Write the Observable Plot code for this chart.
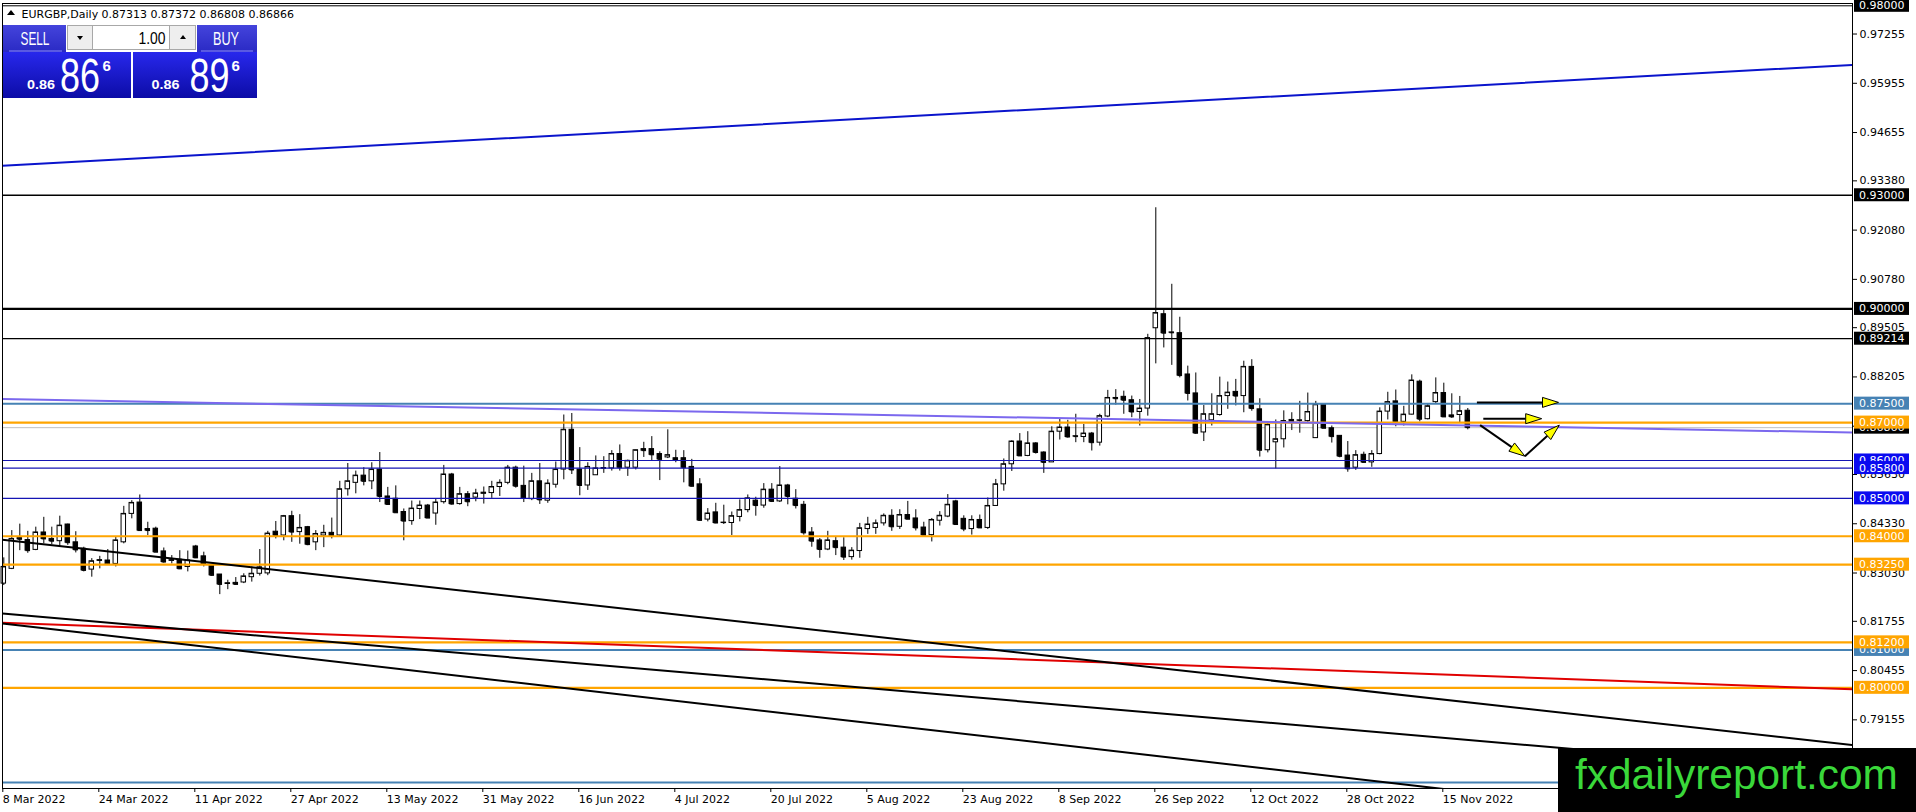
<!DOCTYPE html>
<html>
<head>
<meta charset="utf-8">
<script src="https://cdn.jsdelivr.net/npm/d3@7"></script>
<script src="https://cdn.jsdelivr.net/npm/@observablehq/plot@0.6"></script>
<style>
  html, body { margin: 0; padding: 0; background: #fff; overflow: hidden; }
  #chart svg { display: block; }
</style>
</head>
<body>
<div id="chart"></div>
<script>
// ---------------- DATA ----------------
const openP = [
0.8275,0.8314,0.8395,0.8390,0.8364,0.8410,0.8393,0.8387,0.8431,0.8384,
0.8367,0.8312,0.8335,0.8336,0.8327,0.8384,0.8459,0.8489,0.8419,0.8420,
0.8360,0.8335,0.8338,0.8319,0.8373,0.8347,0.8323,0.8299,0.8274,0.8277,
0.8278,0.8292,0.8301,0.8302,0.8412,0.8402,0.8453,0.8411,0.8424,0.8384,
0.8402,0.8409,0.8402,0.8524,0.8541,0.8560,0.8545,0.8576,0.8505,0.8499,
0.8464,0.8440,0.8472,0.8481,0.8460,0.8490,0.8563,0.8485,0.8511,0.8502,
0.8512,0.8514,0.8530,0.8541,0.8581,0.8533,0.8498,0.8545,0.8494,0.8536,
0.8576,0.8681,0.8576,0.8534,0.8561,0.8578,0.8579,0.8617,0.8581,0.8581,
0.8630,0.8630,0.8617,0.8608,0.8606,0.8606,0.8583,0.8537,0.8444,0.8463,
0.8435,0.8435,0.8451,0.8469,0.8494,0.8481,0.8523,0.8492,0.8534,0.8499,
0.8483,0.8410,0.8389,0.8365,0.8387,0.8370,0.8345,0.8361,0.8419,0.8422,
0.8434,0.8454,0.8425,0.8456,0.8447,0.8423,0.8403,0.8441,0.8452,0.8492,
0.8446,0.8419,0.8443,0.8422,0.8480,0.8537,0.8590,0.8650,0.8612,0.8645,
0.8621,0.8595,0.8676,0.8687,0.8664,0.8662,0.8671,0.8647,0.8716,0.8765,
0.8768,0.8759,0.8728,0.8737,0.8949,0.8986,0.8938,0.8936,0.8827,0.8777,
0.8674,0.8706,0.8720,0.8770,0.8781,0.8770,0.8847,0.8735,0.8627,0.8648,
0.8656,0.8707,0.8705,0.8704,0.8659,0.8747,0.8685,0.8665,0.8613,0.8581,
0.8615,0.8595,0.8617,0.8729,0.8756,0.8702,0.8721,0.8808,0.8709,0.8754,
0.8778,0.8719,0.8720,0.87313];
const highP = [
0.8343,0.8415,0.8432,0.8413,0.8424,0.8450,0.8424,0.8453,0.8432,0.8412,
0.8371,0.8341,0.8347,0.8365,0.8397,0.8479,0.8494,0.8509,0.8437,0.8424,
0.8369,0.8349,0.8362,0.8361,0.8376,0.8358,0.8325,0.8299,0.8284,0.8291,
0.8301,0.8319,0.8365,0.8413,0.8439,0.8455,0.8466,0.8457,0.8426,0.8415,
0.8429,0.8448,0.8545,0.8592,0.8572,0.8581,0.8594,0.8621,0.8529,0.8533,
0.8472,0.8493,0.8493,0.8484,0.8498,0.8587,0.8566,0.8529,0.8518,0.8524,
0.8530,0.8545,0.8549,0.8587,0.8585,0.8585,0.8566,0.8592,0.8549,0.8596,
0.8720,0.8724,0.8634,0.8594,0.8612,0.8610,0.8626,0.8641,0.8601,0.8627,
0.8648,0.8663,0.8623,0.8681,0.8627,0.8626,0.8603,0.8552,0.8473,0.8487,
0.8482,0.8464,0.8496,0.8509,0.8503,0.8539,0.8539,0.8584,0.8537,0.8523,
0.8492,0.8423,0.8394,0.8413,0.8398,0.8396,0.8370,0.8434,0.8450,0.8443,
0.8459,0.8470,0.8470,0.8492,0.8470,0.8437,0.8447,0.8465,0.8510,0.8495,
0.8454,0.8454,0.8456,0.8501,0.8550,0.8604,0.8652,0.8671,0.8676,0.8647,
0.8623,0.8689,0.8709,0.8706,0.8722,0.8695,0.8674,0.8722,0.8785,0.8787,
0.8783,0.8770,0.8761,0.8933,0.9267,0.8997,0.9065,0.8978,0.8849,0.8831,
0.8745,0.8776,0.8820,0.8807,0.8814,0.8862,0.8866,0.8763,0.8702,0.8707,
0.8731,0.8726,0.8756,0.8778,0.8756,0.8750,0.8691,0.8665,0.8650,0.8626,
0.8622,0.8626,0.8739,0.8780,0.8786,0.8743,0.8826,0.8812,0.8750,0.8818,
0.8804,0.8776,0.8769,0.87372];
const lowP = [
0.8270,0.8312,0.8362,0.8355,0.8362,0.8380,0.8378,0.8371,0.8376,0.8356,
0.8306,0.8292,0.8314,0.8323,0.8319,0.8380,0.8446,0.8413,0.8402,0.8358,
0.8329,0.8327,0.8312,0.8306,0.8341,0.8319,0.8294,0.8246,0.8259,0.8271,
0.8275,0.8279,0.8295,0.8296,0.8393,0.8388,0.8384,0.8379,0.8375,0.8362,
0.8370,0.8393,0.8397,0.8506,0.8512,0.8533,0.8523,0.8489,0.8482,0.8462,
0.8388,0.8429,0.8444,0.8447,0.8429,0.8485,0.8482,0.8482,0.8478,0.8491,
0.8485,0.8500,0.8505,0.8536,0.8527,0.8489,0.8494,0.8484,0.8487,0.8527,
0.8549,0.8563,0.8507,0.8521,0.8561,0.8566,0.8572,0.8572,0.8558,0.8575,
0.8608,0.8600,0.8547,0.8605,0.8594,0.8541,0.8530,0.8440,0.8438,0.8433,
0.8431,0.8402,0.8438,0.8462,0.8453,0.8474,0.8489,0.8489,0.8483,0.8472,
0.8403,0.8371,0.8342,0.8362,0.8349,0.8336,0.8337,0.8342,0.8405,0.8405,
0.8427,0.8413,0.8418,0.8445,0.8414,0.8403,0.8385,0.8427,0.8449,0.8429,
0.8412,0.8403,0.8421,0.8418,0.8480,0.8519,0.8571,0.8612,0.8610,0.8617,
0.8566,0.8595,0.8654,0.8659,0.8647,0.8647,0.8625,0.8638,0.8713,0.8746,
0.8722,0.8713,0.8691,0.8717,0.8855,0.8897,0.8851,0.8818,0.8757,0.8669,
0.8650,0.8691,0.8717,0.8735,0.8744,0.8726,0.8730,0.8609,0.8620,0.8578,
0.8633,0.8679,0.8672,0.8698,0.8659,0.8685,0.8646,0.8607,0.8569,0.8574,
0.8594,0.8582,0.8615,0.8707,0.8689,0.8691,0.8720,0.8702,0.8707,0.8750,
0.8715,0.8711,0.8698,0.86808];
const closeP = [
0.8319,0.8393,0.8392,0.8362,0.8410,0.8393,0.8387,0.8428,0.8383,0.8364,
0.8310,0.8334,0.8337,0.8326,0.8389,0.8459,0.8488,0.8415,0.8415,0.8358,
0.8332,0.8337,0.8314,0.8336,0.8343,0.8327,0.8297,0.8273,0.8276,0.8273,
0.8294,0.8301,0.8318,0.8407,0.8402,0.8453,0.8411,0.8422,0.8378,0.8406,
0.8409,0.8400,0.8524,0.8545,0.8560,0.8545,0.8576,0.8505,0.8484,0.8462,
0.8440,0.8473,0.8481,0.8448,0.8489,0.8563,0.8485,0.8511,0.8491,0.8513,
0.8515,0.8530,0.8541,0.8581,0.8532,0.8500,0.8545,0.8496,0.8539,0.8576,
0.8681,0.8575,0.8534,0.8583,0.8579,0.8580,0.8617,0.8581,0.8599,0.8627,
0.8626,0.8615,0.8603,0.8614,0.8600,0.8581,0.8532,0.8442,0.8460,0.8435,
0.8436,0.8453,0.8469,0.8500,0.8481,0.8523,0.8492,0.8534,0.8505,0.8481,
0.8409,0.8387,0.8365,0.8389,0.8370,0.8345,0.8362,0.8421,0.8431,0.8434,
0.8454,0.8425,0.8456,0.8445,0.8422,0.8403,0.8443,0.8454,0.8483,0.8431,
0.8419,0.8443,0.8422,0.8480,0.8537,0.8590,0.8650,0.8612,0.8645,0.8621,
0.8595,0.8676,0.8687,0.8662,0.8663,0.8671,0.8647,0.8717,0.8765,0.8763,
0.8759,0.8728,0.8737,0.8923,0.8989,0.8936,0.8937,0.8824,0.8777,0.8672,
0.8722,0.8722,0.8770,0.8779,0.8770,0.8847,0.8737,0.8627,0.8694,0.8656,
0.8704,0.8701,0.8706,0.8728,0.8747,0.8685,0.8663,0.8611,0.8578,0.8614,
0.8595,0.8617,0.8729,0.8754,0.8702,0.8721,0.8811,0.8709,0.8743,0.8778,
0.8715,0.8715,0.8730,0.86866];

const dateTickIndex = [0,12,24,36,48,60,72,84,96,108,120,132,144,156,168,180];
const dateTickLabels = ["8 Mar 2022","24 Mar 2022","11 Apr 2022","27 Apr 2022","13 May 2022","31 May 2022",
  "16 Jun 2022","4 Jul 2022","20 Jul 2022","5 Aug 2022","23 Aug 2022","8 Sep 2022","26 Sep 2022",
  "12 Oct 2022","28 Oct 2022","15 Nov 2022"];
const priceTicks = [0.97255,0.95955,0.94655,0.93380,0.92080,0.90780,0.89505,0.88205,0.86905,0.85630,
  0.84330,0.83030,0.81755,0.80455,0.79155];

// horizontal levels (price and kind)
const levelPrices = [0.98000,0.93000,0.90000,0.89214,0.87500,0.87000,0.86000,0.85800,0.85000,0.84000,0.83250,0.81000,0.81200,0.80000,0.77500];
const levelKinds  = ["black","black","black","black","steel","orange","blue","blue","blue","orange","orange","steel","orange","orange","steel"];
// levels whose right-axis price tag is hidden behind the watermark in the reference
const hiddenTagPrices = [0.77500];

const symbolName = "EURGBP,Daily";
const lastBarOHLC = [0.87313, 0.87372, 0.86808, 0.86866];
const bidPrice = 0.86866;
const askPrice = 0.86896;
const lotSize = "1.00";

// trend lines: price at left edge and right edge of the chart
const trendNames       = ["blue","purple","red","blackA","blackB","blackC"];
const trendLeftPrice   = [0.9378,0.8762,0.8172,0.8391,0.8196,0.8170];
const trendRightPrice  = [0.9644,0.8674,0.7996,0.7849,0.7775,0.7609];

// arrows (bar index, price)
const arrowStartIndex = [184.2,185.0,184.6,190.2];
const arrowStartPrice = [0.8752,0.8709,0.8692,0.8610];
const arrowEndIndex   = [194.4,192.3,190.2,194.5];
const arrowEndPrice   = [0.8752,0.8709,0.8610,0.8692];

// ---------------- LAYOUT / STYLE ----------------
const W = 1916, H = 812;
const mL = 2, mR = 64, mT = 3, mB = 24;
const barStep = 8, firstBarX = 3.3;
const xDomain = [(mL - firstBarX) / barStep, (W - mR - firstBarX) / barStep];
const yDomain = [0.773429, 0.980607];

const kindStyle = {
  black:  {line: "#000000", label: "#000000", width: 1.2},
  steel:  {line: "#4682B4", label: "#4682B4", width: 2},
  orange: {line: "#FFA500", label: "#FFA500", width: 2.2},
  blue:   {line: "#1414b4", label: "#0a0af0", width: 1.2}
};
const levelWidthOverride = {"0.90000": 2.4, "0.93000": 1.4, "0.98000": 1};
const trendStyle = {
  blue:   {stroke: "#0a14cc", width: 2},
  purple: {stroke: "#7b68ee", width: 2},
  red:    {stroke: "#e00000", width: 2},
  blackA: {stroke: "#000000", width: 2},
  blackB: {stroke: "#000000", width: 2},
  blackC: {stroke: "#000000", width: 2}
};

const candles = openP.map((o, i) => ({i, open: o, high: highP[i], low: lowP[i], close: closeP[i]}));
const levels = levelPrices.map((p, k) => ({price: p, kind: levelKinds[k]}));
const trends = trendNames.map((n, k) => ({name: n, pts: [
  {i: xDomain[0], p: trendLeftPrice[k]}, {i: xDomain[1], p: trendRightPrice[k]}]}));
const arrows = arrowStartIndex.map((s, k) => ({x1: s, y1: arrowStartPrice[k], x2: arrowEndIndex[k], y2: arrowEndPrice[k]}));

const fmt5 = d3.format(".5f");

// arrow render mark (filled yellow heads)
function arrowMark(index, scales) {
  const g = d3.create("svg:g");
  for (const a of arrows) {
    const x1 = scales.x(a.x1), y1 = scales.y(a.y1), x2 = scales.x(a.x2), y2 = scales.y(a.y2);
    const ang = Math.atan2(y2 - y1, x2 - x1), L = 16, Wd = 5;
    const bx = x2 - L * Math.cos(ang), by = y2 - L * Math.sin(ang);
    g.append("line").attr("x1", x1).attr("y1", y1).attr("x2", bx).attr("y2", by)
      .attr("stroke", "#000").attr("stroke-width", 2);
    g.append("path")
      .attr("d", `M${x2},${y2}L${bx + Wd * Math.sin(ang)},${by - Wd * Math.cos(ang)}L${bx - Wd * Math.sin(ang)},${by + Wd * Math.cos(ang)}Z`)
      .attr("fill", "#ffff00").attr("stroke", "#000").attr("stroke-width", 1);
  }
  return g.node();
}

// right-axis price labels for levels
function levelLabelMark(index, scales, values, dims) {
  const g = d3.create("svg:g").attr("font-family", "DejaVu Sans, sans-serif").attr("font-size", 11)
    .attr("text-anchor", "start");
  const x0 = dims.width - dims.marginRight + 2;
  const items = [{price: bidPrice, color: "#000000"}];
  const order = [0.86000, 0.85800, 0.81000, 0.81200];
  const rest = levels.filter(l => !order.includes(l.price));
  const seq = order.map(p => levels.find(l => l.price === p)).concat(rest)
    .filter(l => !hiddenTagPrices.includes(l.price));
  for (const l of seq) items.push({price: l.price, color: kindStyle[l.kind].label});
  for (const it of items) {
    const y = scales.y(it.price);
    g.append("rect").attr("x", x0).attr("y", y - 6.5).attr("width", 55).attr("height", 13).attr("fill", it.color);
    g.append("text").attr("x", x0 + 5).attr("y", y).attr("dy", "0.36em").attr("fill", "#fff").text(fmt5(it.price));
  }
  return g.node();
}

const marks = [
  Plot.ruleY([bidPrice], {stroke: "#c0c0c0", strokeWidth: 1}),
  Plot.ruleX(candles, {x: "i", y1: "low", y2: "high", stroke: "#000", strokeWidth: 1}),
  Plot.rect(candles, {x1: d => d.i - 0.28, x2: d => d.i + 0.28, y1: "open", y2: "close",
    fill: d => d.close >= d.open ? "#ffffff" : "#000000", stroke: "#000", strokeWidth: 1}),
  Plot.link(candles, {x1: d => d.i - 0.28, x2: d => d.i + 0.28, y1: "close", y2: "close", stroke: "#000", strokeWidth: 1}),
  ...levels.map(l => Plot.ruleY([l.price], {
    stroke: kindStyle[l.kind].line,
    strokeWidth: levelWidthOverride[fmt5(l.price)] ?? kindStyle[l.kind].width
  })),
  ...trends.map(t => Plot.line(t.pts, {x: "i", y: "p", stroke: trendStyle[t.name].stroke,
    strokeWidth: trendStyle[t.name].width, clip: true})),
  arrowMark,
  Plot.axisY(priceTicks, {anchor: "right", tickSize: 4, tickPadding: 3, tickFormat: fmt5, label: null,
    fontSize: 11, fill: "#000", stroke: "#000"}),
  Plot.axisX(dateTickIndex, {anchor: "bottom", tickSize: 4, tickPadding: 3, label: null,
    tickFormat: d => dateTickLabels[dateTickIndex.indexOf(d)], textAnchor: "start", dx: -1, fontSize: 11}),
  Plot.frame({stroke: "#000", strokeWidth: 1}),
  levelLabelMark
];

const chart = Plot.plot({
  width: W, height: H,
  marginLeft: mL, marginRight: mR, marginTop: mT, marginBottom: mB,
  x: {domain: xDomain},
  y: {domain: yDomain},
  style: {fontFamily: "DejaVu Sans, sans-serif", fontSize: "11px", background: "#fff", color: "#000", overflow: "visible"},
  marks
});
document.getElementById("chart").appendChild(chart);

// ---------------- UI CHROME (header, trade panel, watermark) ----------------
const svg = d3.select(chart);
const defs = svg.append("defs");
const g1 = defs.append("linearGradient").attr("id", "btnGrad").attr("x1", 0).attr("y1", 0).attr("x2", 0).attr("y2", 1);
g1.append("stop").attr("offset", "0%").attr("stop-color", "#4444dc");
g1.append("stop").attr("offset", "100%").attr("stop-color", "#2a2ac4");
const g2 = defs.append("linearGradient").attr("id", "priceGrad").attr("x1", 0).attr("y1", 0).attr("x2", 0).attr("y2", 1);
g2.append("stop").attr("offset", "0%").attr("stop-color", "#2828ec");
g2.append("stop").attr("offset", "100%").attr("stop-color", "#0c0ca6");

// text squeezed horizontally to a target width (real transform, so its box is exact)
function squeezed(parent, x, y, size, str, targetW, attrs = {}) {
  const t = parent.append("text").attr("x", 0).attr("y", 0).attr("font-size", size).text(str);
  for (const k in attrs) t.attr(k, attrs[k]);
  const len = t.node().getComputedTextLength() || targetW;
  t.attr("transform", `translate(${x},${y}) scale(${targetW / len},1)`);
  return t;
}

const hdr = svg.append("g").attr("font-family", "DejaVu Sans, sans-serif").attr("font-size", 11)
  .attr("fill", "#000").attr("text-anchor", "start");
hdr.append("path").attr("d", "M7,15L11,10L15,15Z").attr("fill", "#000");
hdr.append("text").attr("x", 21.5).attr("y", 17.5).text(symbolName);
hdr.append("text").attr("x", 101.5).attr("y", 17.5).text(lastBarOHLC.map(fmt5).join(" "));

const ui = svg.append("g").attr("font-family", "Liberation Sans, Arial, sans-serif").attr("text-anchor", "start");
// SELL / BUY buttons
ui.append("rect").attr("x", 3).attr("y", 25).attr("width", 63).attr("height", 27).attr("fill", "url(#btnGrad)");
ui.append("rect").attr("x", 197).attr("y", 25).attr("width", 60).attr("height", 27).attr("fill", "url(#btnGrad)");
ui.append("line").attr("x1", 9).attr("x2", 62).attr("y1", 51).attr("y2", 51).attr("stroke", "#8a8aff").attr("stroke-width", 1);
ui.append("line").attr("x1", 201).attr("x2", 253).attr("y1", 51).attr("y2", 51).attr("stroke", "#8a8aff").attr("stroke-width", 1);
squeezed(ui, 20.5, 45, 18, "SELL", 29, {fill: "#fff"});
squeezed(ui, 213, 45, 18, "BUY", 26, {fill: "#fff"});
// spinner + lot
ui.append("rect").attr("x", 67.5).attr("y", 25.5).attr("width", 25).attr("height", 24).attr("fill", "#eeeeee").attr("stroke", "#a8a8a8");
ui.append("rect").attr("x", 92.5).attr("y", 25.5).attr("width", 77).attr("height", 24).attr("fill", "#ffffff").attr("stroke", "#a8a8a8");
ui.append("rect").attr("x", 169.5).attr("y", 25.5).attr("width", 26).attr("height", 24).attr("fill", "#eeeeee").attr("stroke", "#a8a8a8");
ui.append("path").attr("d", "M77,36L83,36L80,40Z").attr("fill", "#000");
ui.append("path").attr("d", "M180,39L186,39L183,35Z").attr("fill", "#000");
squeezed(ui, 138.5, 43.5, 16, lotSize, 27, {fill: "#000"});
// price boxes
function priceBox(x, w, price, smallX, bigX, supX) {
  ui.append("rect").attr("x", x).attr("y", 52).attr("width", w).attr("height", 46).attr("fill", "url(#priceGrad)");
  const s = price.toFixed(5);            // e.g. 0.86866
  const head = s.slice(0, 4), big = s.slice(4, 6), sup = s.slice(6, 7);
  squeezed(ui, smallX, 88.5, 13, head, 28, {fill: "#fff", "font-weight": "bold"});
  squeezed(ui, bigX, 92, 49, big, 40, {fill: "#fff"});
  ui.append("text").attr("x", supX).attr("y", 70.5).attr("font-size", 15).attr("font-weight", "bold")
    .attr("fill", "#fff").text(sup);
}
priceBox(3, 128, bidPrice, 27, 60, 102.5);
priceBox(133, 124, askPrice, 151.5, 189.5, 231.5);

// watermark
const wm = svg.append("g").attr("text-anchor", "start").attr("font-family", "Liberation Sans, Arial, sans-serif");
wm.append("rect").attr("x", 1558).attr("y", 748).attr("width", 358).attr("height", 64).attr("fill", "#000");
squeezed(wm, 1575, 789, 42, "fxdailyreport.com", 323, {fill: "#3ad83a"});
</script>
</body>
</html>
